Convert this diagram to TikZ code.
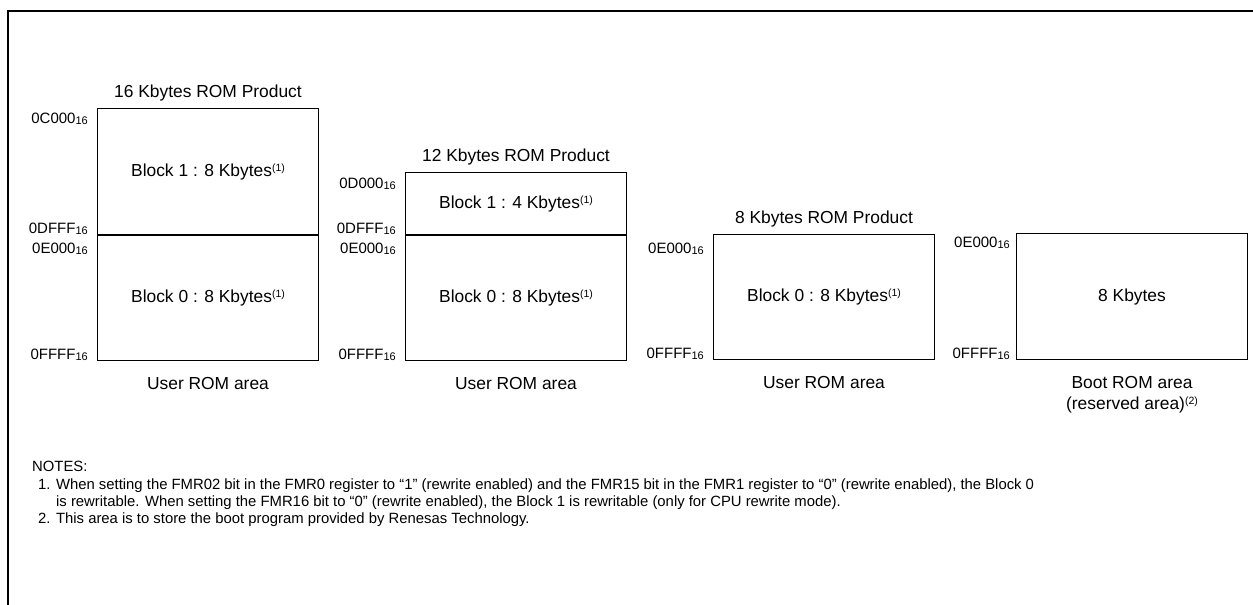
\documentclass[tikz,border=0pt]{standalone}
\usepackage{fontspec}
\setmainfont{Liberation Sans}
\usetikzlibrary{positioning,calc}

\newcommand{\hexsub}[1]{#1\raisebox{-1pt}{\fontsize{11}{11}\selectfont 16}}
\newcommand{\fnref}[1]{\raisebox{5pt}{\fontsize{10.5}{10.5}\selectfont(#1)}}

\begin{document}
\begin{tikzpicture}[
  x=1pt, y=-1pt,
  blk/.style={draw, line width=1pt, anchor=north west, inner sep=0pt, minimum width=221pt, font=\fontsize{17.4}{21}\selectfont},
  addr/.style={anchor=base east, inner sep=0pt, font=\fontsize{15}{17}\selectfont},
  ttl/.style={anchor=base, inner sep=0pt, font=\fontsize{17.4}{21}\selectfont},
  note/.style={anchor=base west, inner sep=0pt, font=\fontsize{14.85}{17}\selectfont}
]
\useasboundingbox (0,0) rectangle (1253,605);
\draw[line width=2.3pt] (8,605) -- (8,11) -- (1253,11);

% 16 Kbytes ROM
\node[blk, minimum height=126pt] (k16b1) at (97,108) {Block 1 : 8 Kbytes\fnref{1}};
\node[blk, minimum height=125pt] (k16b0) at (k16b1.south west) {Block 0 : 8 Kbytes\fnref{1}};
\node[ttl] (k16t) at ([yshift=11pt]k16b1.north) {16 Kbytes ROM Product};
\node[ttl] (k16c) at ([yshift=-28pt]k16b0.south) {User ROM area};
\node[addr] (k16a1) at ([xshift=-9pt,yshift=-15pt]k16b1.north west) {\hexsub{0C000}};
\node[addr] (k16a2) at ([xshift=-9pt,yshift=2pt]k16b1.south west) {\hexsub{0DFFF}};
\node[addr] (k16a3) at ([xshift=-9pt,yshift=-18pt]k16b0.north west) {\hexsub{0E000}};
\node[addr] (k16a4) at ([xshift=-9pt,yshift=2pt]k16b0.south west) {\hexsub{0FFFF}};

% 12 Kbytes ROM
\node[blk, minimum height=62pt] (k12b1) at (405,172) {Block 1 : 4 Kbytes\fnref{1}};
\node[blk, minimum height=125pt] (k12b0) at (k12b1.south west) {Block 0 : 8 Kbytes\fnref{1}};
\node[ttl] (k12t) at ([yshift=11pt]k12b1.north) {12 Kbytes ROM Product};
\node[ttl] (k12c) at ([yshift=-28pt]k12b0.south) {User ROM area};
\node[addr] (k12a1) at ([xshift=-9pt,yshift=-16pt]k12b1.north west) {\hexsub{0D000}};
\node[addr] (k12a2) at ([xshift=-9pt,yshift=2pt]k12b1.south west) {\hexsub{0DFFF}};
\node[addr] (k12a3) at ([xshift=-9pt,yshift=-18pt]k12b0.north west) {\hexsub{0E000}};
\node[addr] (k12a4) at ([xshift=-9pt,yshift=2pt]k12b0.south west) {\hexsub{0FFFF}};

% 8 Kbytes ROM
\node[blk, minimum height=125pt] (k8b0) at (713,234) {Block 0 : 8 Kbytes\fnref{1}};
\node[ttl] (k8t) at ([yshift=11pt]k8b0.north) {8 Kbytes ROM Product};
\node[ttl] (k8c) at ([yshift=-28pt]k8b0.south) {User ROM area};
\node[addr] (k8a1) at ([xshift=-9pt,yshift=-19pt]k8b0.north west) {\hexsub{0E000}};
\node[addr] (k8a2) at ([xshift=-9pt,yshift=2pt]k8b0.south west) {\hexsub{0FFFF}};

% boot ROM
\node[blk, minimum width=231pt, minimum height=126pt] (boot) at (1016,233) {8 Kbytes};
\node[ttl] (bootc) at ([yshift=-28pt]boot.south) {Boot ROM area};
\node[ttl] (bootr) at ([yshift=-21pt]bootc.base) {(reserved area)\fnref{2}};
\node[addr] (boota1) at ([xshift=-6pt,yshift=-14pt]boot.north west) {\hexsub{0E000}};
\node[addr] (boota2) at ([xshift=-6pt,yshift=2pt]boot.south west) {\hexsub{0FFFF}};

% notes
\node[note] (notes) at (32,471) {NOTES:};
\node[note] (n1a) at (38,489) {1. When setting the FMR02 bit in the FMR0 register to “1” (rewrite enabled) and the FMR15 bit in the FMR1 register to “0” (rewrite enabled), the Block 0};
\node[note] (n1b) at (56,506) {is rewritable. When setting the FMR16 bit to “0” (rewrite enabled), the Block 1 is rewritable (only for CPU rewrite mode).};
\node[note] (n2) at (38,523) {2. This area is to store the boot program provided by Renesas Technology.};
\end{tikzpicture}
\end{document}
